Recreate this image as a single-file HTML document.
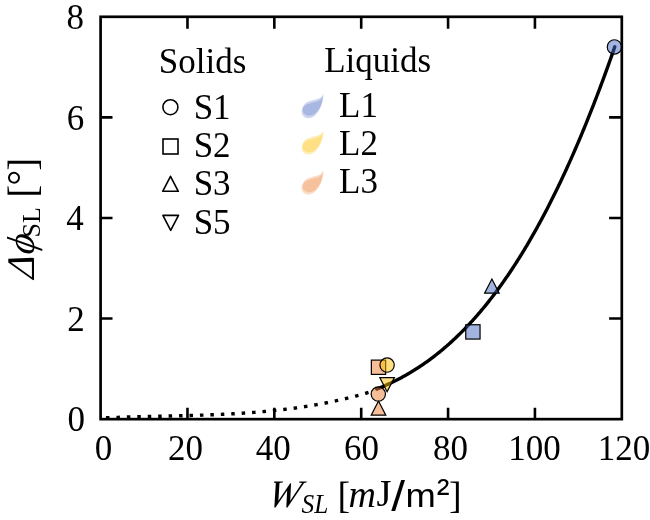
<!DOCTYPE html><html><head><meta charset="utf-8"><style>html,body{margin:0;padding:0;background:#fff;overflow:hidden;width:650px;height:520px;}svg{display:block;will-change:transform;}text{font-family:"Liberation Serif",serif;fill:#000;}</style></head><body>
<svg width="650" height="520" viewBox="0 0 650 520">
<path d="M100.60,418.06 L101.60,418.01 L102.60,417.97 L103.60,417.92 L104.60,417.88 L105.60,417.84 L106.60,417.79 L107.60,417.75 L108.60,417.71 L109.60,417.67 L110.60,417.63 L111.60,417.59 L112.60,417.55 L113.60,417.52 L114.60,417.48 L115.60,417.44 L116.60,417.41 L117.60,417.37 L118.60,417.34 L119.60,417.30 L120.60,417.27 L121.60,417.24 L122.60,417.20 L123.60,417.17 L124.60,417.14 L125.60,417.11 L126.60,417.08 L127.60,417.05 L128.60,417.02 L129.60,416.99 L130.60,416.96 L131.60,416.93 L132.60,416.90 L133.60,416.88 L134.60,416.85 L135.60,416.82 L136.60,416.79 L137.60,416.77 L138.60,416.74 L139.60,416.71 L140.60,416.69 L141.60,416.66 L142.60,416.64 L143.60,416.61 L144.60,416.59 L145.60,416.56 L146.60,416.54 L147.60,416.52 L148.60,416.49 L149.60,416.47 L150.60,416.45 L151.60,416.42 L152.60,416.40 L153.60,416.38 L154.60,416.35 L155.60,416.33 L156.60,416.31 L157.60,416.28 L158.60,416.26 L159.60,416.24 L160.60,416.21 L161.60,416.19 L162.60,416.17 L163.60,416.15 L164.60,416.12 L165.60,416.10 L166.60,416.08 L167.60,416.06 L168.60,416.03 L169.60,416.01 L170.60,415.99 L171.60,415.96 L172.60,415.94 L173.60,415.91 L174.60,415.89 L175.60,415.87 L176.60,415.84 L177.60,415.82 L178.60,415.79 L179.60,415.77 L180.60,415.74 L181.60,415.72 L182.60,415.69 L183.60,415.67 L184.60,415.64 L185.60,415.61 L186.60,415.59 L187.60,415.56 L188.60,415.53 L189.60,415.51 L190.60,415.48 L191.60,415.45 L192.60,415.42 L193.60,415.39 L194.60,415.36 L195.60,415.33 L196.60,415.30 L197.60,415.27 L198.60,415.24 L199.60,415.21 L200.60,415.17 L201.60,415.14 L202.60,415.11 L203.60,415.07 L204.60,415.04 L205.60,415.00 L206.60,414.97 L207.60,414.93 L208.60,414.89 L209.60,414.86 L210.60,414.82 L211.60,414.78 L212.60,414.74 L213.60,414.70 L214.60,414.66 L215.60,414.62 L216.60,414.58 L217.60,414.53 L218.60,414.49 L219.60,414.45 L220.60,414.40 L221.60,414.36 L222.60,414.31 L223.60,414.26 L224.60,414.21 L225.60,414.16 L226.60,414.12 L227.60,414.06 L228.60,414.01 L229.60,413.96 L230.60,413.91 L231.60,413.85 L232.60,413.80 L233.60,413.74 L234.60,413.69 L235.60,413.63 L236.60,413.57 L237.60,413.51 L238.60,413.45 L239.60,413.39 L240.60,413.32 L241.60,413.26 L242.60,413.20 L243.60,413.13 L244.60,413.06 L245.60,413.00 L246.60,412.93 L247.60,412.86 L248.60,412.79 L249.60,412.71 L250.60,412.64 L251.60,412.57 L252.60,412.49 L253.60,412.41 L254.60,412.33 L255.60,412.26 L256.60,412.17 L257.60,412.09 L258.60,412.01 L259.60,411.93 L260.60,411.84 L261.60,411.75 L262.60,411.67 L263.60,411.58 L264.60,411.49 L265.60,411.39 L266.60,411.30 L267.60,411.21 L268.60,411.11 L269.60,411.01 L270.60,410.91 L271.60,410.81 L272.60,410.71 L273.60,410.61 L274.60,410.50 L275.60,410.40 L276.60,410.29 L277.60,410.18 L278.60,410.07 L279.60,409.96 L280.60,409.85 L281.60,409.73 L282.60,409.61 L283.60,409.50 L284.60,409.38 L285.60,409.26 L286.60,409.13 L287.60,409.01 L288.60,408.88 L289.60,408.75 L290.60,408.63 L291.60,408.49 L292.60,408.36 L293.60,408.23 L294.60,408.09 L295.60,407.95 L296.60,407.81 L297.60,407.67 L298.60,407.53 L299.60,407.39 L300.60,407.24 L301.60,407.09 L302.60,406.94 L303.60,406.79 L304.60,406.64 L305.60,406.48 L306.60,406.32 L307.60,406.16 L308.60,406.00 L309.60,405.84 L310.60,405.67 L311.60,405.51 L312.60,405.34 L313.60,405.17 L314.60,404.99 L315.60,404.82 L316.60,404.64 L317.60,404.46 L318.60,404.28 L319.60,404.10 L320.60,403.92 L321.60,403.73 L322.60,403.54 L323.60,403.35 L324.60,403.16 L325.60,402.96 L326.60,402.77 L327.60,402.57 L328.60,402.36 L329.60,402.16 L330.60,401.96 L331.60,401.75 L332.60,401.54 L333.60,401.33 L334.60,401.11 L335.60,400.89 L336.60,400.68 L337.60,400.45 L338.60,400.23 L339.60,400.00 L340.60,399.78 L341.60,399.55 L342.60,399.31 L343.60,399.08 L344.60,398.84 L345.60,398.60 L346.60,398.36 L347.60,398.12 L348.60,397.87 L349.60,397.62 L350.60,397.37 L351.60,397.11 L352.60,396.86 L353.60,396.60 L354.60,396.34 L355.60,396.07 L356.60,395.81 L357.60,395.54 L358.60,395.27 L359.60,394.99 L360.60,394.72 L361.60,394.44 L362.60,394.16 L363.60,393.87 L364.60,393.58 L365.60,393.29 L366.60,393.00 L367.60,392.71 L368.60,392.41 L369.00,392.29" fill="none" stroke="#000" stroke-width="3.4" stroke-dasharray="3.500 6.942" stroke-dashoffset="5.036"/>
<path d="M376.80,389.05 L377.80,388.65 L378.80,388.25 L379.80,387.84 L380.80,387.42 L381.80,387.00 L382.80,386.58 L383.80,386.14 L384.80,385.71 L385.80,385.27 L386.80,384.82 L387.80,384.36 L388.80,383.90 L389.80,383.44 L390.80,382.97 L391.80,382.49 L392.80,382.01 L393.80,381.52 L394.80,381.02 L395.80,380.52 L396.80,380.02 L397.80,379.50 L398.80,378.99 L399.80,378.46 L400.80,377.93 L401.80,377.39 L402.80,376.85 L403.80,376.30 L404.80,375.74 L405.80,375.18 L406.80,374.61 L407.80,374.03 L408.80,373.45 L409.80,372.86 L410.80,372.26 L411.80,371.66 L412.80,371.05 L413.80,370.43 L414.80,369.81 L415.80,369.17 L416.80,368.54 L417.80,367.89 L418.80,367.24 L419.80,366.58 L420.80,365.92 L421.80,365.24 L422.80,364.56 L423.80,363.87 L424.80,363.18 L425.80,362.48 L426.80,361.76 L427.80,361.05 L428.80,360.32 L429.80,359.59 L430.80,358.85 L431.80,358.10 L432.80,357.34 L433.80,356.58 L434.80,355.81 L435.80,355.03 L436.80,354.24 L437.80,353.45 L438.80,352.65 L439.80,351.83 L440.80,351.02 L441.80,350.19 L442.80,349.35 L443.80,348.51 L444.80,347.66 L445.80,346.80 L446.80,345.93 L447.80,345.05 L448.80,344.17 L449.80,343.27 L450.80,342.37 L451.80,341.46 L452.80,340.54 L453.80,339.61 L454.80,338.67 L455.80,337.73 L456.80,336.77 L457.80,335.81 L458.80,334.84 L459.80,333.86 L460.80,332.87 L461.80,331.87 L462.80,330.86 L463.80,329.84 L464.80,328.82 L465.80,327.78 L466.80,326.74 L467.80,325.68 L468.80,324.62 L469.80,323.55 L470.80,322.46 L471.80,321.37 L472.80,320.27 L473.80,319.16 L474.80,318.04 L475.80,316.91 L476.80,315.77 L477.80,314.62 L478.80,313.46 L479.80,312.30 L480.80,311.12 L481.80,309.93 L482.80,308.73 L483.80,307.52 L484.80,306.30 L485.80,305.07 L486.80,303.84 L487.80,302.59 L488.80,301.33 L489.80,300.06 L490.80,298.78 L491.80,297.49 L492.80,296.19 L493.80,294.88 L494.80,293.56 L495.80,292.23 L496.80,290.88 L497.80,289.53 L498.80,288.17 L499.80,286.80 L500.80,285.41 L501.80,284.02 L502.80,282.61 L503.80,281.19 L504.80,279.76 L505.80,278.33 L506.80,276.88 L507.80,275.42 L508.80,273.94 L509.80,272.46 L510.80,270.97 L511.80,269.46 L512.80,267.95 L513.80,266.42 L514.80,264.88 L515.80,263.33 L516.80,261.77 L517.80,260.19 L518.80,258.61 L519.80,257.01 L520.80,255.41 L521.80,253.79 L522.80,252.16 L523.80,250.51 L524.80,248.86 L525.80,247.19 L526.80,245.51 L527.80,243.83 L528.80,242.12 L529.80,240.41 L530.80,238.68 L531.80,236.95 L532.80,235.20 L533.80,233.44 L534.80,231.66 L535.80,229.88 L536.80,228.08 L537.80,226.27 L538.80,224.44 L539.80,222.61 L540.80,220.76 L541.80,218.90 L542.80,217.03 L543.80,215.14 L544.80,213.25 L545.80,211.34 L546.80,209.41 L547.80,207.48 L548.80,205.53 L549.80,203.57 L550.80,201.60 L551.80,199.61 L552.80,197.61 L553.80,195.60 L554.80,193.57 L555.80,191.53 L556.80,189.48 L557.80,187.42 L558.80,185.34 L559.80,183.25 L560.80,181.15 L561.80,179.03 L562.80,176.90 L563.80,174.75 L564.80,172.60 L565.80,170.43 L566.80,168.24 L567.80,166.04 L568.80,163.83 L569.80,161.61 L570.80,159.37 L571.80,157.12 L572.80,154.85 L573.80,152.57 L574.80,150.28 L575.80,147.97 L576.80,145.65 L577.80,143.32 L578.80,140.97 L579.80,138.60 L580.80,136.23 L581.80,133.84 L582.80,131.43 L583.80,129.01 L584.80,126.58 L585.80,124.13 L586.80,121.67 L587.80,119.19 L588.80,116.70 L589.80,114.20 L590.80,111.68 L591.80,109.15 L592.80,106.60 L593.80,104.04 L594.80,101.46 L595.80,98.87 L596.80,96.26 L597.80,93.64 L598.80,91.00 L599.80,88.35 L600.80,85.69 L601.80,83.01 L602.80,80.31 L603.80,77.60 L604.80,74.87 L605.80,72.13 L606.80,69.38 L607.80,66.61 L608.80,63.82 L609.80,61.02 L610.80,58.21 L611.80,55.38 L612.80,52.53 L613.80,49.67 L614.80,46.79" fill="none" stroke="#000" stroke-width="3.4" stroke-linecap="round"/>
<rect x="100.60" y="16.80" width="521.20" height="402.35" fill="none" stroke="#000" stroke-width="2.7"/>
<path d="M187.47,419.15V407.70 M187.47,16.80V28.70 M274.33,419.15V407.70 M274.33,16.80V28.70 M361.20,419.15V407.70 M361.20,16.80V28.70 M448.07,419.15V407.70 M448.07,16.80V28.70 M534.93,419.15V407.70 M534.93,16.80V28.70 M100.60,318.56H112.50 M621.80,318.56H609.10 M100.60,217.97H112.50 M621.80,217.97H609.10 M100.60,117.39H112.50 M621.80,117.39H609.10" stroke="#000" stroke-width="2.6" fill="none"/>
<text transform="translate(84.90,430.95) scale(1,1.025)" font-size="35" text-anchor="end">0</text>
<text transform="translate(84.80,330.60) scale(1,1.025)" font-size="35" text-anchor="end">2</text>
<text transform="translate(83.70,229.60) scale(1,1.025)" font-size="35" text-anchor="end">4</text>
<text transform="translate(84.35,129.65) scale(1,1.025)" font-size="35" text-anchor="end">6</text>
<text transform="translate(84.10,29.25) scale(1,1.025)" font-size="35" text-anchor="end">8</text>
<text transform="translate(103.50,459.6) scale(1,1.025)" font-size="35" text-anchor="middle">0</text>
<text transform="translate(185.60,459.6) scale(1,1.025)" font-size="35" text-anchor="middle">20</text>
<text transform="translate(273.30,459.6) scale(1,1.025)" font-size="35" text-anchor="middle">40</text>
<text transform="translate(361.60,459.6) scale(1,1.025)" font-size="35" text-anchor="middle">60</text>
<text transform="translate(450.60,459.6) scale(1,1.025)" font-size="35" text-anchor="middle">80</text>
<text transform="translate(534.40,459.6) scale(1,1.025)" font-size="35" text-anchor="middle">100</text>
<text transform="translate(624.05,459.6) scale(1,1.025)" font-size="35" text-anchor="middle">120</text>
<text transform="translate(266.0,506.9) skewX(-12)" font-size="39" font-style="italic">W</text>
<text transform="translate(301.6,513.1) scale(0.955,1)" font-size="26.5" font-style="italic">SL</text>
<text x="337.6" y="507.7" font-size="38">[</text>
<text x="348.5" y="506.8" font-size="38" font-style="italic">m</text>
<text x="376.4" y="506.4" font-size="38.5">J</text>
<text transform="translate(391.2,511) scale(1.14,1)" font-size="43.4" style="font-family:'Liberation Sans',sans-serif">/</text>
<text transform="translate(405.6,506.8) scale(1.07,1)" font-size="34" style="font-family:'Liberation Sans',sans-serif">m</text>
<text x="436.74" y="505.5" font-size="38.4" style="font-family:'Liberation Sans',sans-serif">²</text>
<text x="449.0" y="507.7" font-size="38">]</text>
<text transform="rotate(-90) translate(-278.9,33.7) skewX(-6.7)" font-size="39" font-style="italic">Δ</text>
<text transform="rotate(-90) translate(-255.6,34) skewX(-10)" font-size="39" font-style="italic">ϕ</text>
<text transform="rotate(-90)" x="-237.5" y="39.6" font-size="26">SL</text>
<text transform="rotate(-90)" x="-197.7" y="36.3" font-size="39">[</text>
<text transform="rotate(-90)" x="-185.55" y="34.8" font-size="39">°</text>
<text transform="rotate(-90)" x="-170.8" y="36.3" font-size="39">]</text>
<text transform="translate(158.85,72.6) scale(1,1.025)" font-size="35">Solids</text>
<text transform="translate(324.2,72.4) scale(1,1.025)" font-size="35">Liquids</text>
<text transform="translate(193.65,118.85) scale(1,1.025)" font-size="35">S1</text>
<text transform="translate(193.65,157.25) scale(1,1.025)" font-size="35">S2</text>
<text transform="translate(193.65,195.45) scale(1,1.025)" font-size="35">S3</text>
<text transform="translate(193.65,233.85) scale(1,1.025)" font-size="35">S5</text>
<text transform="translate(339,116.80) scale(1,1.025)" font-size="35">L1</text>
<text transform="translate(339,154.80) scale(1,1.025)" font-size="35">L2</text>
<text transform="translate(339,193.20) scale(1,1.025)" font-size="35">L3</text>
<circle cx="170.4" cy="107.2" r="7.5" fill="none" stroke="#000" stroke-width="1.6"/>
<rect x="163" y="139" width="15" height="15" fill="none" stroke="#000" stroke-width="1.6"/>
<path d="M170.5,176.3 L178.3,191.3 L162.7,191.3 Z" fill="none" stroke="#000" stroke-width="1.6" stroke-linejoin="round"/>
<path d="M162.9,215.4 L178.5,215.4 L170.7,230.3 Z" fill="none" stroke="#000" stroke-width="1.6" stroke-linejoin="round"/>
<g transform="translate(301.5,94.0)" fill="#4A6AC2" fill-opacity="0.28"><path d="M21.5,0.5 C21.8,8 19,16 13,21 C9,24 3,23.5 1.2,19.5 C-0.5,15.5 1.5,11 6,9 C10,7.3 15,7 18.5,5 C20.5,3.8 21.2,2 21.5,0.5 Z" transform="translate(0.4,-1.2)"/><path d="M21.5,0.5 C21.8,8 19,16 13,21 C9,24 3,23.5 1.2,19.5 C-0.5,15.5 1.5,11 6,9 C10,7.3 15,7 18.5,5 C20.5,3.8 21.2,2 21.5,0.5 Z" transform="translate(-0.4,1.2)"/></g>
<g transform="translate(301.5,130.4)" fill="#FFC000" fill-opacity="0.28"><path d="M21.5,0.5 C21.8,8 19,16 13,21 C9,24 3,23.5 1.2,19.5 C-0.5,15.5 1.5,11 6,9 C10,7.3 15,7 18.5,5 C20.5,3.8 21.2,2 21.5,0.5 Z" transform="translate(0.4,-1.2)"/><path d="M21.5,0.5 C21.8,8 19,16 13,21 C9,24 3,23.5 1.2,19.5 C-0.5,15.5 1.5,11 6,9 C10,7.3 15,7 18.5,5 C20.5,3.8 21.2,2 21.5,0.5 Z" transform="translate(-0.4,1.2)"/></g>
<g transform="translate(301.5,170.4)" fill="#ED7D31" fill-opacity="0.28"><path d="M21.5,0.5 C21.8,8 19,16 13,21 C9,24 3,23.5 1.2,19.5 C-0.5,15.5 1.5,11 6,9 C10,7.3 15,7 18.5,5 C20.5,3.8 21.2,2 21.5,0.5 Z" transform="translate(0.4,-1.2)"/><path d="M21.5,0.5 C21.8,8 19,16 13,21 C9,24 3,23.5 1.2,19.5 C-0.5,15.5 1.5,11 6,9 C10,7.3 15,7 18.5,5 C20.5,3.8 21.2,2 21.5,0.5 Z" transform="translate(-0.4,1.2)"/></g>
<path d="M378.50,401.00 L385.80,415.20 L371.20,415.20 Z" fill="#ED7D31" fill-opacity="0.50" stroke="#000" stroke-width="1.2" stroke-linejoin="miter"/>
<circle cx="378.30" cy="394.10" r="7.15" fill="#ED7D31" fill-opacity="0.50" stroke="#000" stroke-width="1.2"/>
<path d="M387.10,391.80 L394.40,377.60 L379.80,377.60 Z" fill="#FFC000" fill-opacity="0.50" stroke="#000" stroke-width="1.2" stroke-linejoin="miter"/>
<rect x="371.35" y="360.10" width="14.30" height="14.30" fill="#ED7D31" fill-opacity="0.50" stroke="#000" stroke-width="1.2"/>
<circle cx="387.10" cy="365.10" r="7.15" fill="#FFC000" fill-opacity="0.50" stroke="#000" stroke-width="1.2"/>
<rect x="465.75" y="324.75" width="14.30" height="14.30" fill="#4A6AC2" fill-opacity="0.50" stroke="#000" stroke-width="1.2"/>
<path d="M491.90,279.00 L499.20,293.20 L484.60,293.20 Z" fill="#4A6AC2" fill-opacity="0.50" stroke="#000" stroke-width="1.2" stroke-linejoin="miter"/>
<circle cx="614.40" cy="46.90" r="7.15" fill="#4A6AC2" fill-opacity="0.50" stroke="#000" stroke-width="1.2"/>
</svg></body></html>
